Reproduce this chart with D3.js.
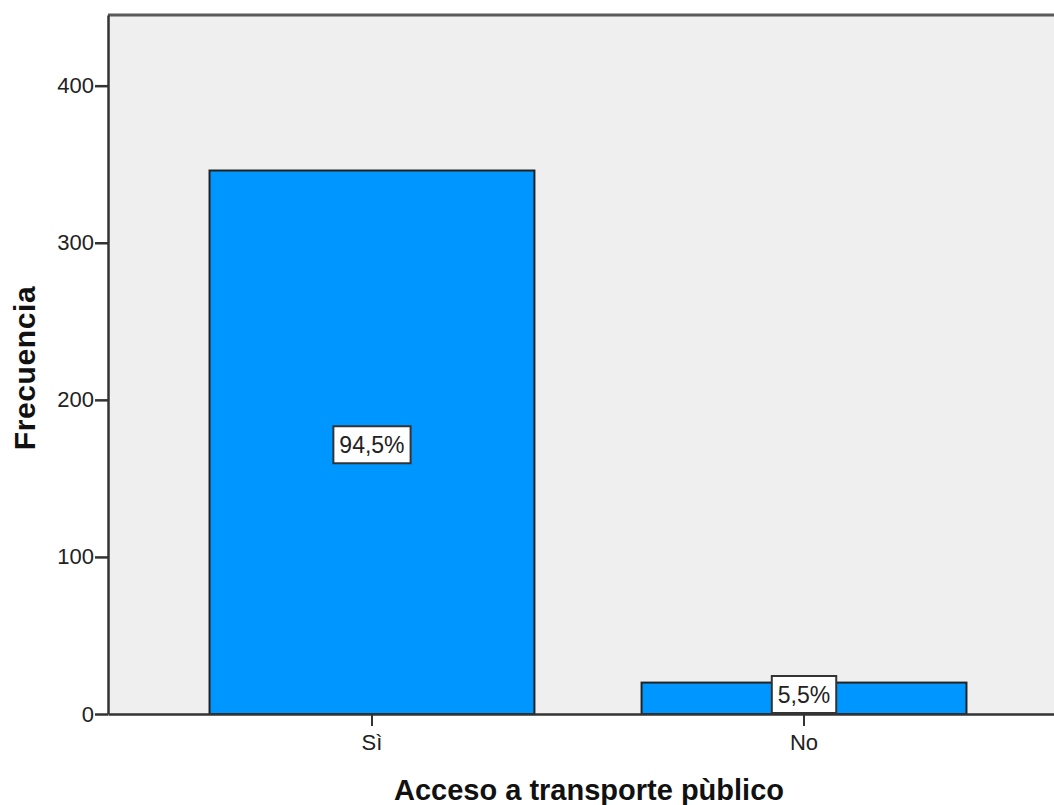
<!DOCTYPE html>
<html><head><meta charset="utf-8">
<script src="https://cdn.jsdelivr.net/npm/d3@7"></script>
<style>body{margin:0;background:#fff}svg{display:block}text{font-family:Arial,"Liberation Sans",sans-serif}</style>
</head><body><svg id="c" width="1054" height="805"></svg>
<script>
const categories = ["Sì", "No"];
const frequencies = [346, 20];
const percentLabels = ["94,5%", "5,5%"];
const yTicks = [0, 100, 200, 300, 400];
const xTitle = "Acceso a transporte pùblico";
const yTitle = "Frecuencia";

const svg = d3.select("#c");
const L = 108, T = 15, R = 1068, B = 714;
const x = d3.scaleBand().domain(categories).range([L, R]).paddingInner(0.248).paddingOuter(0.235);
const y = d3.scaleLinear().domain([0, 445]).range([B, T]);

svg.append("rect").attr("x", L).attr("y", T).attr("width", R - L).attr("height", B - T).attr("fill", "#efefef");

svg.selectAll("rect.bar").data(categories).join("rect").attr("class", "bar")
  .attr("x", d => x(d)).attr("width", x.bandwidth())
  .attr("y", (d, i) => y(frequencies[i])).attr("height", (d, i) => y(0) - y(frequencies[i]))
  .attr("fill", "#0096ff").attr("stroke", "#222").attr("stroke-width", 2);

// top frame line
svg.append("line").attr("x1", L).attr("x2", R).attr("y1", T).attr("y2", T).attr("stroke", "#5a5a5a").attr("stroke-width", 3);

const yAxis = svg.append("g").attr("transform", `translate(${L},0)`)
  .call(d3.axisLeft(y).tickValues(yTicks).tickSize(13).tickSizeOuter(0).tickPadding(1));
yAxis.select(".domain").attr("stroke", "#333").attr("stroke-width", 2.5);
yAxis.selectAll(".tick line").attr("stroke", "#333").attr("stroke-width", 2.5);
yAxis.selectAll("text").attr("font-size", 22).attr("fill", "#222");

const xAxis = svg.append("g").attr("transform", `translate(0,${B})`)
  .call(d3.axisBottom(x).tickSize(12).tickSizeOuter(0).tickPadding(8));
xAxis.select(".domain").attr("stroke", "#333").attr("stroke-width", 2.5);
xAxis.selectAll(".tick line").attr("stroke", "#333").attr("stroke-width", 2);
xAxis.selectAll("text").attr("font-size", 22).attr("fill", "#222");

// percent labels
categories.forEach((c, i) => {
  const cx = x(c) + x.bandwidth() / 2;
  const h = 37;
  let cy = (y(frequencies[i]) + y(0)) / 2 + 2.5;
  if (cy + h / 2 > B - 1) cy = B - 1 - h / 2;
  const g = svg.append("g");
  const t = g.append("text").attr("x", cx).attr("y", cy).attr("text-anchor", "middle")
    .attr("dominant-baseline", "central").attr("font-size", 23).attr("fill", "#222").text(percentLabels[i]);
  const bb = t.node().getBBox();
  g.insert("rect", "text").attr("x", cx - bb.width / 2 - 6).attr("y", cy - h / 2).attr("width", bb.width + 12).attr("height", h)
    .attr("fill", "#fff").attr("stroke", "#333").attr("stroke-width", 2);
});

svg.append("text").attr("x", (L + R) / 2 + 1).attr("y", 800).attr("text-anchor", "middle")
  .attr("font-size", 29).attr("font-weight", "bold").attr("fill", "#111").text(xTitle);
svg.append("text").attr("transform", `translate(35,368) rotate(-90)`).attr("text-anchor", "middle")
  .attr("font-size", 30).attr("font-weight", "bold").attr("letter-spacing", 0.6).attr("fill", "#111").text(yTitle);
</script></body></html>
